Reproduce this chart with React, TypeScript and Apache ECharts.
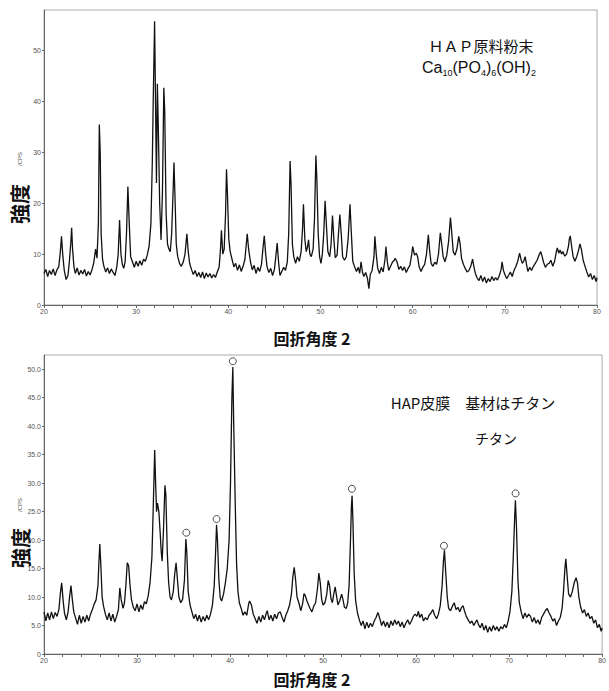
import React, { useEffect, useRef } from "react";
import * as echarts from "echarts";

// ---- Data ----
// HAP raw powder diffraction pattern: [2θ, intensity]
const hapPowderPattern: number[][] = [
  [20.0, 6.2], [20.2, 7.0], [20.4, 5.6], [20.6, 6.8], [20.8, 6.0], [21.0, 7.1], [21.2, 5.8], [21.4, 6.9], [21.6, 7.5], [21.75, 10],
  [21.9, 13.5], [22.05, 9.5], [22.2, 6.8], [22.4, 5.0], [22.6, 5.8], [22.75, 8.5], [22.9, 12], [23.0, 15.2], [23.1, 11], [23.25, 7.5],
  [23.4, 6.2], [23.6, 7.3], [23.8, 5.9], [24.0, 6.8], [24.2, 6.1], [24.4, 7.0], [24.6, 5.7], [24.8, 6.6], [25.0, 5.9], [25.2, 6.9],
  [25.4, 8.3], [25.6, 11], [25.75, 9.2], [25.9, 16], [26.0, 35.5], [26.1, 30], [26.2, 14], [26.35, 9], [26.5, 7.6], [26.7, 6.5],
  [26.9, 7.3], [27.1, 6.2], [27.3, 7.1], [27.5, 6.4], [27.7, 5.8], [27.9, 7.5], [28.05, 10], [28.2, 16.7], [28.35, 10], [28.5, 8],
  [28.65, 7.2], [28.8, 8.5], [28.95, 14], [29.1, 23.3], [29.25, 16], [29.4, 9.5], [29.6, 8.5], [29.8, 7.4], [30.0, 8.6], [30.2, 7.6],
  [30.4, 8.7], [30.6, 7.8], [30.8, 9.0], [31.0, 8.6], [31.2, 9.8], [31.4, 11.5], [31.6, 16], [31.75, 28], [31.85, 40], [32.0, 55.8],
  [32.1, 40], [32.2, 24], [32.3, 43.5], [32.4, 35], [32.55, 20], [32.7, 12.8], [32.85, 22], [33.0, 42.7], [33.1, 38], [33.25, 18],
  [33.4, 12], [33.55, 11], [33.7, 10.5], [33.85, 14], [34.0, 22], [34.1, 28], [34.2, 22], [34.35, 12], [34.5, 9.6], [34.7, 8.2],
  [34.9, 7.6], [35.1, 8.4], [35.3, 10], [35.5, 14], [35.65, 10.5], [35.8, 8.2], [36.0, 7.0], [36.2, 6.0], [36.4, 6.8], [36.6, 5.6],
  [36.8, 6.4], [37.0, 5.4], [37.2, 6.5], [37.4, 5.2], [37.6, 6.3], [37.8, 5.5], [38.0, 6.2], [38.2, 5.3], [38.4, 6.0], [38.6, 5.4],
  [38.8, 6.5], [39.0, 7.4], [39.15, 11], [39.25, 14.7], [39.4, 10], [39.55, 11], [39.7, 18], [39.8, 26.7], [39.9, 22], [40.05, 13],
  [40.2, 10.5], [40.4, 9], [40.6, 7.5], [40.8, 8.2], [41.0, 6.8], [41.2, 7.9], [41.4, 6.6], [41.6, 7.6], [41.8, 9], [41.95, 12],
  [42.05, 14], [42.2, 11], [42.4, 8.5], [42.6, 6.9], [42.8, 7.8], [43.0, 6.2], [43.2, 7.4], [43.4, 6.6], [43.6, 8], [43.75, 11],
  [43.9, 13.6], [44.05, 10], [44.2, 7.5], [44.4, 6.4], [44.6, 7.2], [44.8, 5.8], [45.0, 7.0], [45.15, 9.5], [45.3, 12.2], [45.45, 8.5],
  [45.6, 5.8], [45.8, 6.6], [46.0, 7.4], [46.2, 6.8], [46.4, 8.5], [46.55, 14], [46.7, 28.3], [46.8, 24], [46.95, 12], [47.1, 9.5],
  [47.3, 8.2], [47.5, 9.5], [47.7, 8.6], [47.9, 10.5], [48.05, 15], [48.15, 19.8], [48.3, 13], [48.45, 10.5], [48.6, 11.5], [48.7, 12.8],
  [48.85, 10], [49.0, 9.5], [49.2, 11], [49.35, 17], [49.5, 29.4], [49.6, 25], [49.75, 14], [49.9, 9.5], [50.05, 8.2], [50.2, 10],
  [50.35, 14], [50.5, 20.5], [50.6, 17], [50.8, 10.5], [51.0, 9.5], [51.15, 12], [51.3, 17.6], [51.45, 13], [51.6, 9.3], [51.8, 9.8],
  [51.95, 14], [52.1, 17.8], [52.25, 14], [52.4, 9.5], [52.6, 8.8], [52.8, 9.5], [53.0, 13], [53.2, 19.8], [53.35, 14], [53.5, 8.6],
  [53.7, 7.5], [53.9, 6.6], [54.1, 7.4], [54.25, 6.2], [54.4, 8.5], [54.55, 6.5], [54.7, 5.6], [54.9, 6.4], [55.1, 5.2], [55.25, 3.2],
  [55.4, 6.0], [55.6, 6.8], [55.8, 9.5], [55.9, 13.5], [56.05, 10], [56.2, 7.3], [56.4, 6.2], [56.6, 7.4], [56.8, 6.5], [57.0, 9],
  [57.1, 11.5], [57.25, 8.5], [57.4, 6.8], [57.6, 7.6], [57.8, 8.4], [58.0, 8.8], [58.1, 9.2], [58.3, 8.5], [58.5, 7.0], [58.7, 7.6],
  [58.9, 6.8], [59.1, 7.5], [59.3, 6.4], [59.5, 7.2], [59.7, 7.8], [59.9, 10], [60.0, 11.5], [60.2, 9.8], [60.4, 10.2], [60.55, 9.4],
  [60.7, 7.5], [60.9, 6.6], [61.1, 7.4], [61.3, 8.0], [61.5, 10], [61.7, 13.8], [61.85, 10.5], [62.0, 8.2], [62.2, 7.6], [62.4, 8.4],
  [62.6, 8.0], [62.8, 10], [63.0, 14.2], [63.15, 12], [63.3, 9.6], [63.5, 8.5], [63.7, 9.8], [63.9, 12.5], [64.1, 17.2], [64.25, 14],
  [64.4, 10.5], [64.6, 9.8], [64.8, 11], [65.0, 13.5], [65.15, 12], [65.3, 9.2], [65.5, 8], [65.7, 7.2], [65.9, 6.5], [66.1, 6.8],
  [66.3, 7.6], [66.5, 9.0], [66.65, 7.5], [66.8, 6.2], [67.0, 5.3], [67.2, 4.8], [67.4, 5.8], [67.6, 4.6], [67.8, 5.5], [68.0, 4.3],
  [68.2, 5.2], [68.4, 4.6], [68.6, 5.6], [68.8, 4.8], [69.0, 5.4], [69.2, 4.9], [69.4, 5.8], [69.6, 7.0], [69.7, 8.5], [69.85, 6.8],
  [70.0, 6.0], [70.2, 5.2], [70.4, 5.8], [70.6, 6.5], [70.8, 5.6], [71.0, 6.8], [71.2, 7.6], [71.4, 8.6], [71.6, 10.2], [71.75, 9.0],
  [71.9, 8.2], [72.05, 8.6], [72.2, 9.5], [72.35, 8.0], [72.5, 6.6], [72.7, 7.4], [72.9, 6.8], [73.1, 7.6], [73.3, 8.2], [73.5, 8.8],
  [73.7, 9.8], [73.9, 10.5], [74.05, 9.5], [74.2, 8.4], [74.4, 7.4], [74.6, 8.0], [74.8, 8.2], [75.0, 8.8], [75.2, 7.6], [75.4, 8.6],
  [75.6, 10.6], [75.7, 11.2], [75.85, 10.2], [76.0, 10.8], [76.15, 10.0], [76.3, 10.5], [76.5, 9.6], [76.7, 10.0], [76.9, 11.5], [77.0, 13.0],
  [77.1, 13.6], [77.25, 11.5], [77.4, 9.6], [77.6, 8.6], [77.8, 9.5], [78.0, 10.8], [78.15, 12], [78.3, 11], [78.5, 8.8], [78.7, 7.6],
  [78.9, 6.5], [79.1, 5.5], [79.3, 6.2], [79.5, 5.0], [79.7, 5.8], [79.9, 4.6], [80.0, 5.4],
];

// HAP film on titanium diffraction pattern: [2θ, intensity]
const hapFilmPattern: number[][] = [
  [20.0, 7.4], [20.2, 5.8], [20.4, 7.2], [20.6, 6.0], [20.8, 7.4], [21.0, 6.2], [21.2, 7.3], [21.4, 6.6], [21.6, 7.8], [21.75, 10.5],
  [21.9, 12.5], [22.05, 9.5], [22.2, 7.2], [22.4, 6.0], [22.6, 7.5], [22.75, 10], [22.9, 12], [23.05, 9.5], [23.2, 7.4], [23.4, 6.3],
  [23.6, 5.2], [23.8, 6.8], [24.0, 5.4], [24.2, 6.6], [24.4, 5.6], [24.6, 6.8], [24.8, 5.8], [25.0, 7.0], [25.2, 7.8], [25.4, 8.8],
  [25.6, 9.5], [25.8, 12], [25.9, 16], [26.0, 19.3], [26.1, 16], [26.25, 10], [26.4, 8.4], [26.6, 7.0], [26.8, 6.0], [27.0, 7.2],
  [27.2, 5.8], [27.4, 7.0], [27.6, 5.6], [27.8, 6.6], [28.0, 7.8], [28.15, 11.6], [28.3, 9.5], [28.5, 8.0], [28.65, 9.0], [28.8, 12],
  [28.95, 16], [29.1, 15.5], [29.25, 12], [29.4, 9.6], [29.6, 8.2], [29.8, 7.6], [30.0, 8.8], [30.2, 7.4], [30.4, 8.6], [30.6, 7.8],
  [30.8, 9.2], [31.0, 8.8], [31.2, 10.2], [31.4, 12.5], [31.6, 17], [31.75, 26], [31.9, 35.8], [32.0, 30], [32.1, 25], [32.2, 26.5],
  [32.35, 25], [32.5, 21], [32.6, 18], [32.7, 16.3], [32.85, 22], [33.0, 29.6], [33.1, 28], [33.25, 18], [33.4, 12.5], [33.55, 10],
  [33.7, 9.5], [33.9, 11], [34.05, 14], [34.2, 16], [34.35, 13], [34.5, 10], [34.7, 9.0], [34.9, 9.6], [35.1, 13], [35.25, 20.2],
  [35.35, 18], [35.5, 11], [35.7, 8.6], [35.9, 7.4], [36.1, 6.2], [36.3, 7.0], [36.5, 5.8], [36.7, 6.8], [36.9, 5.6], [37.1, 6.6],
  [37.3, 5.8], [37.5, 6.8], [37.7, 6.0], [37.9, 7.0], [38.1, 8.5], [38.3, 12], [38.45, 18], [38.55, 22.7], [38.65, 20], [38.8, 13],
  [38.95, 9.8], [39.1, 9.3], [39.3, 10.5], [39.5, 12.5], [39.7, 15], [39.9, 20], [40.05, 30], [40.2, 45], [40.3, 50.4], [40.4, 40],
  [40.55, 27], [40.7, 16], [40.85, 11], [41.0, 9.0], [41.2, 8.0], [41.4, 6.8], [41.6, 7.4], [41.8, 6.8], [42.0, 8.8], [42.1, 9.3],
  [42.3, 8.6], [42.5, 7.0], [42.7, 6.2], [42.9, 5.4], [43.1, 6.6], [43.3, 5.6], [43.5, 6.8], [43.7, 6.0], [43.9, 7.2], [44.0, 7.6],
  [44.2, 6.0], [44.4, 6.8], [44.6, 5.8], [44.8, 7.0], [45.0, 6.2], [45.2, 7.2], [45.4, 7.4], [45.6, 6.4], [45.8, 5.6], [46.0, 6.8],
  [46.2, 7.6], [46.4, 8.6], [46.6, 10.5], [46.75, 13.5], [46.9, 15.2], [47.05, 13], [47.2, 10], [47.4, 9.0], [47.6, 7.6], [47.8, 8.8],
  [47.95, 10.6], [48.1, 10.2], [48.25, 9.4], [48.4, 8.8], [48.6, 8.0], [48.8, 7.4], [49.0, 8.4], [49.2, 9.0], [49.4, 11.5], [49.55, 14.2],
  [49.7, 12.5], [49.85, 9.6], [50.0, 8.6], [50.2, 9.0], [50.4, 10.5], [50.55, 12.9], [50.7, 12.0], [50.85, 9.8], [51.0, 9.0], [51.15, 10.5],
  [51.3, 11.8], [51.45, 10.2], [51.6, 8.6], [51.8, 9.4], [52.0, 10.5], [52.15, 9.5], [52.3, 8.2], [52.5, 8.0], [52.65, 9.0], [52.8, 12],
  [52.95, 20], [53.05, 26], [53.12, 27.8], [53.2, 24], [53.35, 14], [53.5, 9.4], [53.7, 7.2], [53.9, 6.0], [54.1, 5.0], [54.3, 5.8],
  [54.5, 4.4], [54.7, 5.6], [54.9, 4.6], [55.1, 5.4], [55.3, 4.8], [55.5, 5.8], [55.7, 6.4], [55.9, 7.3], [56.1, 6.2], [56.3, 5.0],
  [56.5, 5.8], [56.7, 4.8], [56.9, 5.6], [57.1, 4.6], [57.3, 5.8], [57.5, 5.0], [57.7, 6.0], [57.9, 5.2], [58.1, 5.8], [58.3, 4.8],
  [58.5, 5.6], [58.7, 4.6], [58.9, 5.4], [59.1, 6.0], [59.3, 5.2], [59.5, 5.8], [59.7, 6.6], [59.9, 7.0], [60.1, 6.6], [60.25, 7.5],
  [60.4, 6.4], [60.6, 7.0], [60.8, 5.8], [61.0, 6.4], [61.2, 6.0], [61.4, 6.8], [61.6, 7.2], [61.8, 7.8], [62.0, 6.8], [62.2, 6.2],
  [62.4, 7.0], [62.6, 8.5], [62.8, 12], [62.95, 16.5], [63.05, 18.2], [63.2, 14], [63.35, 10], [63.5, 8.0], [63.7, 7.6], [63.9, 8.4],
  [64.1, 9.0], [64.3, 7.8], [64.5, 8.2], [64.7, 7.4], [64.9, 8.2], [65.05, 8.5], [65.2, 7.6], [65.4, 6.6], [65.6, 6.0], [65.8, 5.4],
  [66.0, 5.8], [66.2, 5.0], [66.4, 5.6], [66.55, 6.0], [66.7, 5.2], [66.9, 4.6], [67.1, 5.4], [67.3, 4.2], [67.5, 5.0], [67.7, 3.8],
  [67.9, 4.8], [68.1, 4.0], [68.3, 5.0], [68.5, 4.2], [68.7, 4.8], [68.9, 4.0], [69.1, 4.8], [69.3, 4.4], [69.5, 5.2], [69.7, 4.6],
  [69.9, 5.8], [70.1, 7.5], [70.3, 11], [70.45, 17], [70.6, 24], [70.68, 27], [70.8, 22], [70.95, 13], [71.1, 9.0], [71.3, 7.4],
  [71.5, 6.2], [71.7, 7.2], [71.9, 6.4], [72.1, 7.0], [72.3, 6.6], [72.5, 5.6], [72.7, 6.4], [72.9, 5.4], [73.1, 6.0], [73.3, 5.2],
  [73.5, 6.4], [73.7, 7.0], [73.9, 7.6], [74.1, 8.0], [74.3, 7.2], [74.5, 6.6], [74.7, 5.8], [74.9, 6.2], [75.1, 5.0], [75.3, 5.8],
  [75.5, 6.4], [75.7, 8.0], [75.85, 11], [76.0, 15], [76.1, 16.7], [76.25, 13.5], [76.4, 10.5], [76.6, 10.0], [76.8, 11], [77.0, 12.5],
  [77.2, 13.4], [77.35, 12.5], [77.5, 10], [77.7, 8.2], [77.9, 7.2], [78.1, 7.8], [78.3, 6.6], [78.5, 7.2], [78.7, 6.2], [78.9, 6.6],
  [79.1, 5.4], [79.3, 6.0], [79.5, 4.6], [79.7, 5.2], [79.9, 4.0], [80.0, 4.6],
];

// Titanium peak markers (○) on the film pattern
const titaniumMarkers: number[][] = [
  [35.3, 21.3], [38.55, 23.7], [40.3, 51.4], [53.1, 29.0], [63.0, 19.0], [70.7, 28.2],
];

const xRange = [20, 80];
const topYMax = 58;
const bottomYMax = 52.5;

const xLabelTitle = "回折角度 2";
const yLabelTitle = "強度";
const unitLabel = "/CPS";
const topNote = "ＨＡＰ原料粉末";
const bottomNote = "HAP皮膜　基材はチタン";
const bottomNote2 = "チタン";

const tickFont = "Liberation Sans";
const cjkFont = "Noto Sans CJK JP";

export default function App() {
  const ref = useRef<HTMLDivElement>(null);

  useEffect(() => {
    if (!ref.current) return;
    const chart = echarts.init(ref.current, undefined, { renderer: "svg" });

    const axisLine = { show: true, lineStyle: { color: "#666", width: 1 } };
    const xAxisBase = {
      type: "value" as const,
      min: xRange[0],
      max: xRange[1],
      interval: 2,
      axisLine,
      axisTick: { show: true, length: 3, lineStyle: { color: "#666" } },
      splitLine: { show: false },
      axisLabel: {
        fontSize: 7,
        color: "#555",
        fontFamily: tickFont,
        margin: 3,
        formatter: (v: number) => (v % 10 === 0 ? String(v) : ""),
      },
    };

    const centered = { align: "center", verticalAlign: "middle", textAlign: "center", textVerticalAlign: "middle" };

    chart.setOption({
      animation: false,
      backgroundColor: "#fff",
      grid: [
        { left: 44, top: 10, width: 553, height: 295, show: true, borderColor: "#aaa", borderWidth: 1 },
        { left: 44, top: 355, width: 562, height: 299, show: true, borderColor: "#aaa", borderWidth: 1 },
      ],
      xAxis: [
        { ...xAxisBase, gridIndex: 0 },
        { ...xAxisBase, gridIndex: 1 },
      ],
      yAxis: [
        {
          type: "value",
          gridIndex: 0,
          min: 0,
          max: topYMax,
          interval: 10,
          axisLine,
          axisTick: { show: true, length: 2, lineStyle: { color: "#666" } },
          splitLine: { show: false },
          axisLabel: {
            fontSize: 7,
            color: "#555",
            fontFamily: tickFont,
            margin: 3,
            showMaxLabel: false,
            formatter: (v: number) => (v % 10 === 0 ? String(v) : ""),
          },
        },
        {
          type: "value",
          gridIndex: 1,
          min: 0,
          max: bottomYMax,
          interval: 5,
          axisLine,
          axisTick: { show: true, length: 2, lineStyle: { color: "#666" } },
          splitLine: { show: false },
          axisLabel: {
            fontSize: 7,
            color: "#555",
            fontFamily: tickFont,
            margin: 3,
            showMaxLabel: false,
            formatter: (v: number) => (v === 0 ? "0" : v % 5 === 0 ? v.toFixed(1) : ""),
          },
        },
      ],
      series: [
        {
          type: "line",
          xAxisIndex: 0,
          yAxisIndex: 0,
          data: hapPowderPattern,
          showSymbol: false,
          lineStyle: { color: "#111", width: 1.3 },
          silent: true,
        },
        {
          type: "line",
          xAxisIndex: 1,
          yAxisIndex: 1,
          data: hapFilmPattern,
          showSymbol: false,
          lineStyle: { color: "#111", width: 1.3 },
          silent: true,
        },
        {
          type: "scatter",
          xAxisIndex: 1,
          yAxisIndex: 1,
          data: titaniumMarkers,
          symbol: "circle",
          symbolSize: 7,
          itemStyle: { color: "#fff", borderColor: "#222", borderWidth: 1 },
          silent: true,
          z: 5,
        },
      ],
      graphic: [
        // axis titles
        {
          type: "text", x: 312, y: 338,
          style: { text: xLabelTitle, fontSize: 16, fontWeight: "bold", fontFamily: cjkFont, fill: "#111", ...centered },
        },
        {
          type: "text", x: 312, y: 679,
          style: { text: xLabelTitle, fontSize: 16, fontWeight: "bold", fontFamily: cjkFont, fill: "#111", ...centered },
        },
        {
          type: "text", x: 19, y: 204, rotation: Math.PI / 2,
          style: { text: yLabelTitle, fontSize: 20, fontWeight: "bold", fontFamily: cjkFont, fill: "#111", ...centered },
        },
        {
          type: "text", x: 20, y: 548, rotation: Math.PI / 2,
          style: { text: yLabelTitle, fontSize: 20, fontWeight: "bold", fontFamily: cjkFont, fill: "#111", ...centered },
        },
        {
          type: "text", x: 20, y: 159, rotation: Math.PI / 2,
          style: { text: unitLabel, fontSize: 6, fontFamily: tickFont, fill: "#555", ...centered },
        },
        {
          type: "text", x: 20, y: 505, rotation: Math.PI / 2,
          style: { text: unitLabel, fontSize: 6, fontFamily: tickFont, fill: "#555", ...centered },
        },
        // annotations
        {
          type: "text", x: 481, y: 45,
          style: { text: topNote, fontSize: 15, fontFamily: cjkFont, fill: "#111", ...centered },
        },
        {
          type: "text", x: 479, y: 67,
          style: {
            text: "{m|Ca}{s|10}{m|(PO}{s|4}{m|)}{s|6}{m|(OH)}{s|2}",
            ...centered,
            fill: "#111",
            rich: {
              m: { fontSize: 16, fontFamily: tickFont, fill: "#111", lineHeight: 20, verticalAlign: "middle" },
              s: { fontSize: 9, fontFamily: tickFont, fill: "#111", lineHeight: 9, verticalAlign: "bottom" },
            },
          },
        },
        {
          type: "text", x: 473, y: 402,
          style: { text: bottomNote, fontSize: 15, fontFamily: cjkFont, fill: "#111", ...centered },
        },
        {
          type: "text", x: 496, y: 438,
          style: { text: bottomNote2, fontSize: 14, fontFamily: cjkFont, fill: "#111", ...centered },
        },
      ],
    });

    return () => chart.dispose();
  }, []);

  return (
    <div
      ref={ref}
      style={{ position: "absolute", left: 0, top: 0, width: 609, height: 691 }}
    />
  );
}
